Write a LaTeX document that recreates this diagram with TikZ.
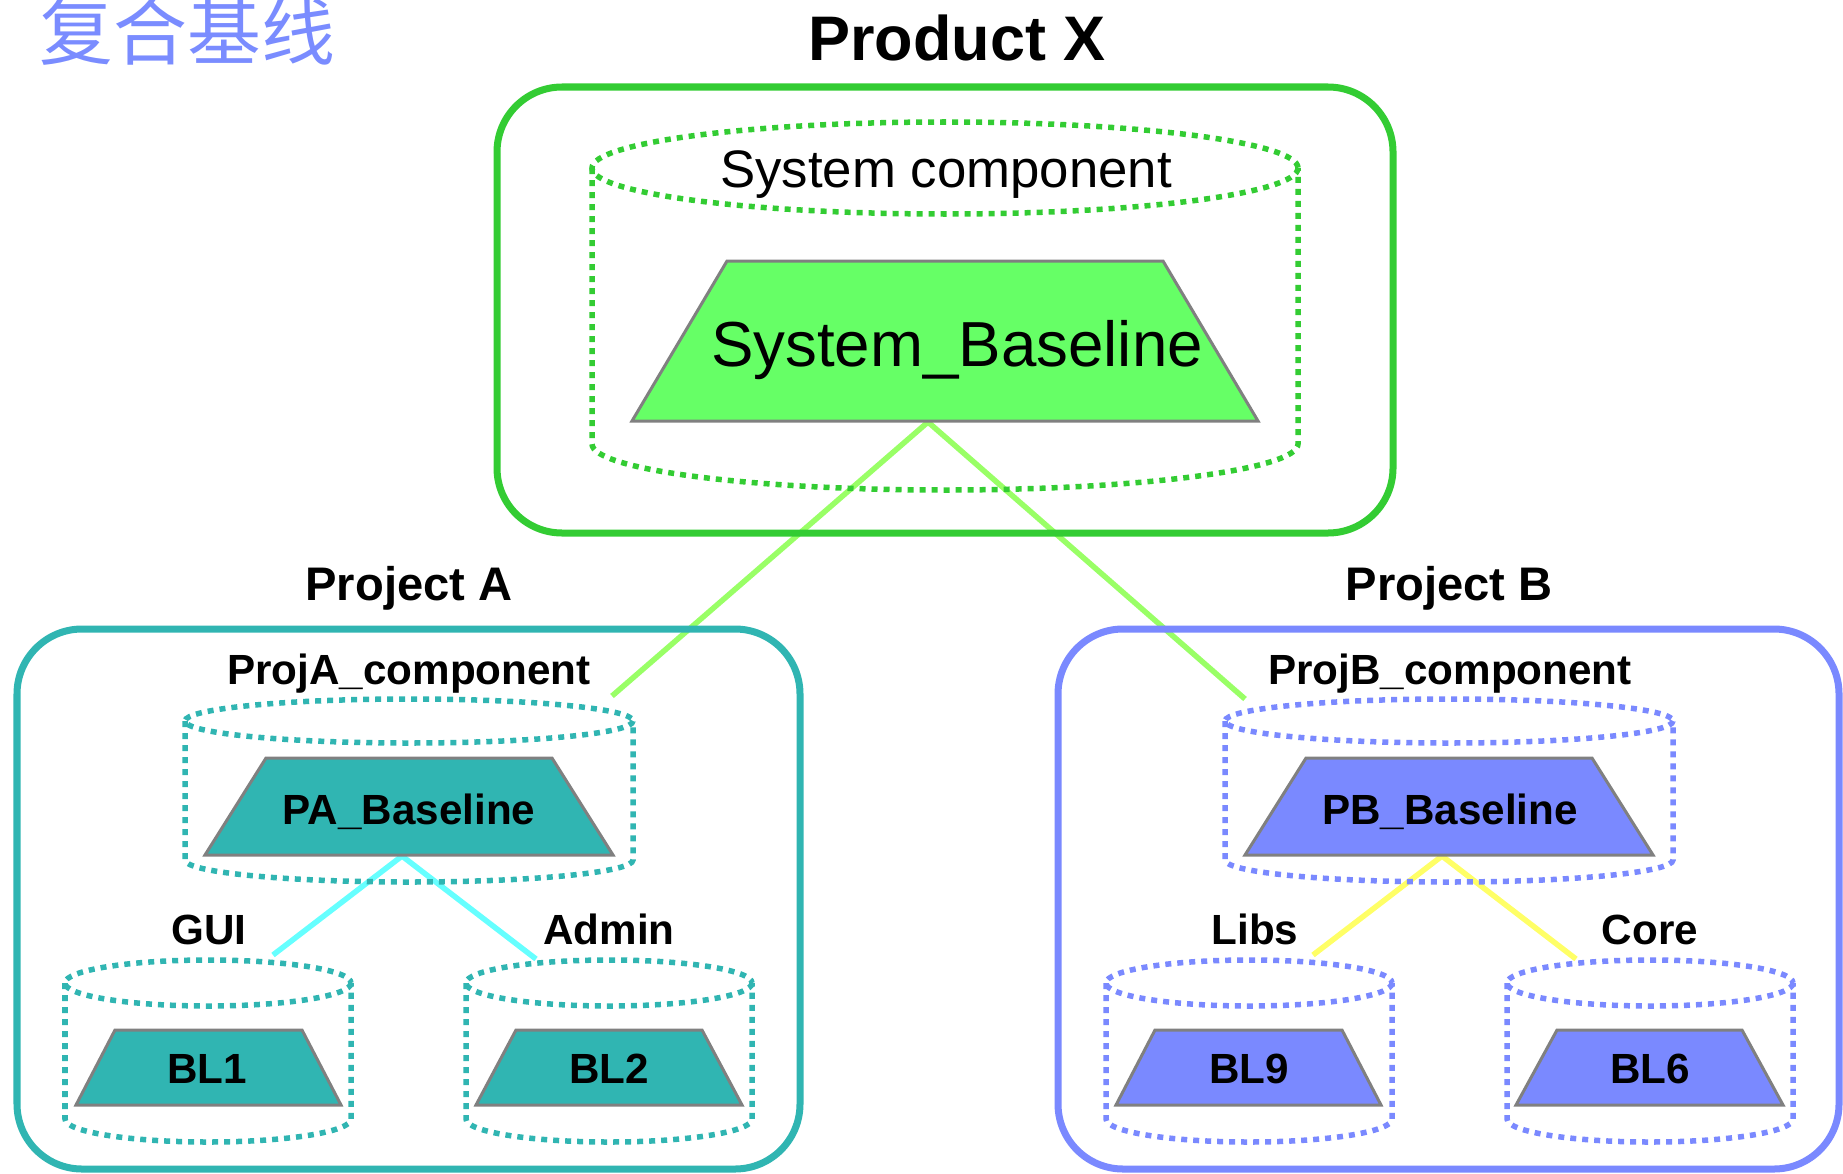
\documentclass[tikz,border=0pt]{standalone}
\usepackage{fontspec}
\setmainfont{Liberation Sans}
\newfontfamily\cjk{Noto Sans CJK SC}

\definecolor{prodgreen}{RGB}{51,204,51}
\definecolor{sysgreen}{RGB}{102,255,102}
\definecolor{linkgreen}{RGB}{153,255,102}
\definecolor{projteal}{RGB}{48,181,178}
\definecolor{projblue}{RGB}{122,137,255}
\definecolor{linkcyan}{RGB}{102,255,255}
\definecolor{linkyellow}{RGB}{255,255,102}
\definecolor{titleblue}{RGB}{122,140,255}
\definecolor{trapgray}{RGB}{128,128,128}

\begin{document}
\begin{tikzpicture}[x=0.01cm, y=-0.01cm,
    frame/.style={line width=0.07cm, rounded corners=0.65cm},
    dots/.style={line width=0.055cm, dash pattern=on 0.06cm off 0.06cm},
    blbox/.style={draw=trapgray, line width=0.03cm},
    link/.style={line width=0.055cm},
    head/.style={anchor=base, inner sep=0, font=\fontsize{13.4}{16}\selectfont\bfseries},
    lbl/.style={anchor=base, inner sep=0, font=\fontsize{12}{14}\selectfont\bfseries}]
                \useasboundingbox (0,0) rectangle (1843,1173);

                % Title
                \node [anchor=base west, inner sep=0, text=titleblue, font=\cjk\fontsize{21}{24}\selectfont] (title) at (39,60) {复合基线};

                % Links
                \coordinate (sysbot) at (928,422);
                \coordinate (patop) at (612,696);
                \coordinate (pbtop) at (1245,699);
                \coordinate (pabot) at (402,856);
                \coordinate (pbbot) at (1442,856);
                \coordinate (guitop) at (273,955);
                \coordinate (admintop) at (536,959);
                \coordinate (libstop) at (1313,955);
                \coordinate (coretop) at (1576,959);
                \draw [link, linkgreen] (sysbot) -- (patop);
                \draw [link, linkgreen] (sysbot) -- (pbtop);
                \draw [link, linkcyan] (pabot) -- (guitop);
                \draw [link, linkcyan] (pabot) -- (admintop);
                \draw [link, linkyellow] (pbbot) -- (libstop);
                \draw [link, linkyellow] (pbbot) -- (coretop);

                % Product X
                \node [anchor=base, inner sep=0, font=\fontsize{17.9}{20}\selectfont\bfseries] (prodx) at (957,61) {Product X};
                \draw [frame, prodgreen] (497,87) rectangle (1393,533);
                \draw [dots, prodgreen] (945,168) ellipse (353 and 46);
                \draw [dots, prodgreen] (592,168) -- (592,444) arc (180:0:353 and 46) -- (1298,168);
                \node [anchor=base, inner sep=0, font=\fontsize{15}{18}\selectfont] (syscomp) at (946,187) {System component};
                \draw [blbox, fill=sysgreen] (632,421) -- (727,261) -- (1163,261) -- (1258,421) -- cycle;
                \node [anchor=base, inner sep=0, font=\fontsize{18.1}{21}\selectfont] (sysbl) at (957,366) {System\_Baseline};

                % Project A
                \node [head] (proja) at (409,600) {Project A};
                \draw [frame, projteal] (17,629) rectangle (800,1169);
                \node [lbl] (pacomp) at (409,684) {ProjA\_component};
                \draw [dots, projteal] (409,721) ellipse (224 and 22);
                \draw [dots, projteal] (185,721) -- (185,860) arc (180:0:224 and 22) -- (633,721);
                \draw [blbox, fill=projteal] (205,855) -- (266,758) -- (552,758) -- (613,855) -- cycle;
                \node [lbl] (pabl) at (409,824) {PA\_Baseline};

                \node [lbl] (gui) at (209,944) {GUI};
                \draw [dots, projteal] (208,983) ellipse (143 and 23);
                \draw [dots, projteal] (65,983) -- (65,1119) arc (180:0:143 and 23) -- (351,983);
                \draw [blbox, fill=projteal] (76,1105) -- (115,1030) -- (302,1030) -- (341,1105) -- cycle;
                \node [lbl] (bl1) at (207,1083) {BL1};

                \node [lbl] (admin) at (609,944) {Admin};
                \draw [dots, projteal] (609,983) ellipse (143 and 23);
                \draw [dots, projteal] (466,983) -- (466,1119) arc (180:0:143 and 23) -- (752,983);
                \draw [blbox, fill=projteal] (476,1105) -- (516,1030) -- (702,1030) -- (742,1105) -- cycle;
                \node [lbl] (bl2) at (609,1083) {BL2};

                % Project B
                \node [head] (projb) at (1449,600) {Project B};
                \draw [frame, projblue] (1058,629) rectangle (1839,1169);
                \node [lbl] (pbcomp) at (1450,684) {ProjB\_component};
                \draw [dots, projblue] (1449,721) ellipse (224 and 22);
                \draw [dots, projblue] (1225,721) -- (1225,860) arc (180:0:224 and 22) -- (1673,721);
                \draw [blbox, fill=projblue] (1245,855) -- (1306,758) -- (1592,758) -- (1653,855) -- cycle;
                \node [lbl] (pbbl) at (1450,824) {PB\_Baseline};

                \node [lbl] (libs) at (1255,944) {Libs};
                \draw [dots, projblue] (1249,983) ellipse (143 and 23);
                \draw [dots, projblue] (1106,983) -- (1106,1119) arc (180:0:143 and 23) -- (1392,983);
                \draw [blbox, fill=projblue] (1116,1105) -- (1155,1030) -- (1342,1030) -- (1381,1105) -- cycle;
                \node [lbl] (bl9) at (1249,1083) {BL9};

                \node [lbl] (core) at (1650,944) {Core};
                \draw [dots, projblue] (1650,983) ellipse (143 and 23);
                \draw [dots, projblue] (1507,983) -- (1507,1119) arc (180:0:143 and 23) -- (1793,983);
                \draw [blbox, fill=projblue] (1516,1105) -- (1557,1030) -- (1742,1030) -- (1783,1105) -- cycle;
                \node [lbl] (bl6) at (1650,1083) {BL6};
            \end{tikzpicture}
\end{document}
